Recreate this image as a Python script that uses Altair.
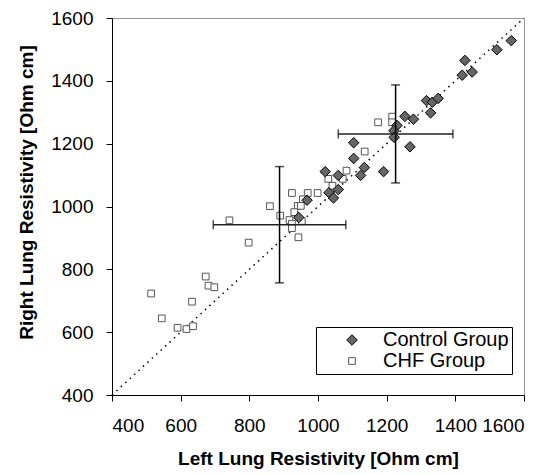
import altair as alt
import pandas as pd

# ---- data ----
control_left = [1563, 1521, 1428, 1420, 1449, 1316, 1333, 1350, 1328, 1253, 1278, 1230, 1221, 1222,
                1268, 1104, 1104, 1135, 1124, 1191, 1021, 1059, 1032, 1059, 1045, 968, 944]
control_right = [1528, 1499, 1465, 1418, 1428, 1337, 1332, 1344, 1298, 1287, 1278, 1258, 1241, 1220,
                 1190, 1203, 1153, 1124, 1099, 1111, 1111, 1099, 1044, 1054, 1027, 1020, 965]

chf_left = [1216, 1216, 1175, 1136, 1083, 1030, 1072, 1042, 924, 970, 999, 860, 956, 941, 950,
            890, 931, 917, 953, 924, 924, 943, 742, 798, 514, 545, 633, 673, 681, 698, 591, 617, 636]
chf_right = [1286, 1268, 1268, 1175, 1114, 1088, 1088, 1066, 1043, 1043, 1043, 1001, 1023, 1002, 1002,
             971, 982, 957, 954, 945, 931, 902, 956, 885, 723, 644, 697, 777, 748, 743, 614, 610, 619]

groups = ["Control Group", "CHF Group"]

eb_group = ["Control Group", "CHF Group"]
eb_mean_x = [1226, 888]
eb_mean_y = [1231, 942]
eb_sd_x = [167, 193]
eb_sd_y = [156, 185]

diag = [400, 1600]
ticks = [400, 600, 800, 1000, 1200, 1400, 1600]

# ---- tables ----
pts = pd.DataFrame({
    "left": chf_left + control_left,
    "right": chf_right + control_right,
    "group": ["CHF Group"] * len(chf_left) + ["Control Group"] * len(control_left),
})
pts["order"] = range(len(pts))

eb = pd.DataFrame({"group": eb_group, "mx": eb_mean_x, "my": eb_mean_y, "sx": eb_sd_x, "sy": eb_sd_y})
eb["xlo"] = eb["mx"] - eb["sx"]
eb["xhi"] = eb["mx"] + eb["sx"]
eb["ylo"] = eb["my"] - eb["sy"]
eb["yhi"] = eb["my"] + eb["sy"]

vcaps = pd.DataFrame({"x": list(eb["mx"]) * 2, "y": list(eb["ylo"]) + list(eb["yhi"])})
hcaps = pd.DataFrame({"x": list(eb["xlo"]) + list(eb["xhi"]), "y": list(eb["my"]) * 2})
diag_df = pd.DataFrame({"x": diag, "y": diag})

FONT = "Liberation Sans"

xscale = alt.Scale(domain=[400, 1600], nice=False, zero=False)
yscale = alt.Scale(domain=[400, 1600], nice=False, zero=False)

xaxis = alt.Axis(title="Left Lung Resistivity [Ohm cm]", values=ticks, grid=False, format="d",
                 labelPadding=15, titlePadding=14)
yaxis = alt.Axis(title="Right Lung Resistivity [Ohm cm]", values=ticks, grid=False, format="d",
                 labelPadding=13, titlePadding=14, titleY=174)

leg = alt.Legend(title=None, orient="none", legendX=204, legendY=309,
                 strokeColor="black", fillColor="white", padding=3,
                 symbolOffset=23, labelOffset=21, labelFontSize=20, labelFont=FONT,
                 labelColor="black", rowPadding=1, symbolStrokeWidth=1)

line = alt.Chart(diag_df).mark_line(color="black", strokeWidth=1.5, strokeDash=[1.5, 4.5]).encode(
    x=alt.X("x:Q", scale=xscale, axis=xaxis),
    y=alt.Y("y:Q", scale=yscale, axis=yaxis),
)

points = alt.Chart(pts).mark_point(filled=True, opacity=1, strokeWidth=1).encode(
    x=alt.X("left:Q", scale=xscale, axis=xaxis),
    y=alt.Y("right:Q", scale=yscale, axis=yaxis),
    shape=alt.Shape("group:N", scale=alt.Scale(domain=groups, range=["diamond", "square"]), legend=leg),
    fill=alt.Fill("group:N", scale=alt.Scale(domain=groups, range=["#666666", "#ffffff"]), legend=leg),
    stroke=alt.Stroke("group:N", scale=alt.Scale(domain=groups, range=["#000000", "#555555"]), legend=leg),
    size=alt.Size("group:N", scale=alt.Scale(domain=groups, range=[110, 45]), legend=leg),
    order=alt.Order("order:Q"),
)

vrule = alt.Chart(eb).mark_rule(color="black", strokeWidth=1.5).encode(
    x="mx:Q", y="ylo:Q", y2="yhi:Q")
hrule = alt.Chart(eb).mark_rule(color="#222222", strokeWidth=1.5).encode(
    x="xlo:Q", x2="xhi:Q", y="my:Q")
vcap = alt.Chart(vcaps).mark_tick(orient="horizontal", size=9, thickness=1.5, color="black").encode(
    x="x:Q", y="y:Q")
hcap = alt.Chart(hcaps).mark_tick(orient="vertical", size=9, thickness=1.5, color="black").encode(
    x="x:Q", y="y:Q")

chart = alt.layer(line, points, vrule, hrule, vcap, hcap).properties(
    width=412, height=377,
    autosize=alt.AutoSizeParams(type="none"),
    padding={"left": 104, "top": 10, "right": 23, "bottom": 77},
).configure_view(
    stroke="#999999", strokeWidth=1
).configure_axis(
    labelFont=FONT, titleFont=FONT, labelFontSize=19, titleFontSize=19,
    titleFontWeight="bold", labelColor="black", titleColor="black",
    domainColor="black", tickColor="black", tickSize=6, domainWidth=1, tickWidth=1,
)

chart.save("out.html", embed_options={"renderer": "svg", "actions": False})
